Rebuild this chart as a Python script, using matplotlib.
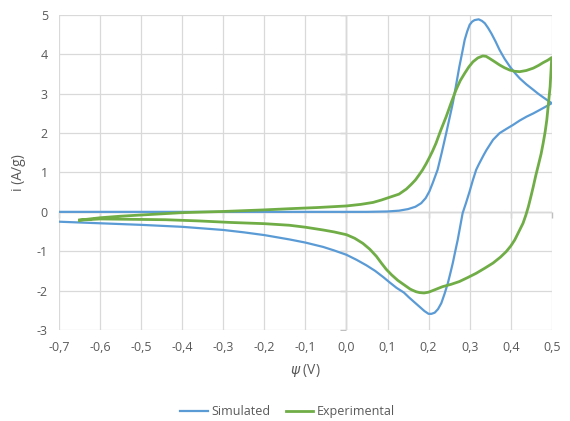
import matplotlib.pyplot as plt
import numpy as np

# Simulated CV: forward scan then reverse scan (psi in V, i in A/g)
sim_psi = [-0.7, -0.5, -0.3, -0.1, 0.05, 0.1, 0.128, 0.15, 0.168, 0.182, 0.193, 0.202,
           0.21, 0.216, 0.222, 0.232, 0.243, 0.251, 0.259, 0.267, 0.275, 0.282, 0.288,
           0.294, 0.3, 0.306, 0.312, 0.322, 0.33, 0.337, 0.345, 0.353, 0.363, 0.373,
           0.385, 0.398, 0.41, 0.422, 0.438, 0.455, 0.467, 0.479, 0.49, 0.5,
           0.485, 0.471, 0.455, 0.439, 0.422, 0.406, 0.39, 0.373, 0.357, 0.341, 0.334,
           0.328, 0.322, 0.316, 0.308, 0.3, 0.291, 0.283, 0.277, 0.271, 0.265, 0.259,
           0.253, 0.247, 0.239, 0.231, 0.223, 0.215, 0.207, 0.2, 0.19, 0.177, 0.165,
           0.152, 0.14, 0.122, 0.105, 0.09, 0.07, 0.049, 0.025, 0.0, -0.03, -0.057,
           -0.1, -0.139, -0.2, -0.25, -0.3, -0.4, -0.5, -0.6, -0.7]
sim_i = [0.0, 0.0, 0.0, 0.0, 0.0, 0.01, 0.03, 0.07, 0.13, 0.22, 0.35, 0.52,
         0.73, 0.9, 1.07, 1.5, 2.0, 2.38, 2.76, 3.22, 3.69, 4.05, 4.37,
         4.58, 4.75, 4.83, 4.87, 4.89, 4.85, 4.79, 4.67, 4.53, 4.33, 4.11,
         3.89, 3.69, 3.53, 3.39, 3.24, 3.1, 3.0, 2.91, 2.83, 2.76,
         2.67, 2.59, 2.5, 2.42, 2.32, 2.21, 2.11, 2.0, 1.83, 1.57, 1.44,
         1.32, 1.2, 1.07, 0.81, 0.52, 0.22, -0.03, -0.37, -0.71, -1.0, -1.3,
         -1.56, -1.81, -2.08, -2.32, -2.47, -2.56, -2.59, -2.59, -2.52, -2.4, -2.29,
         -2.17, -2.05, -1.93, -1.79, -1.66, -1.5, -1.36, -1.22, -1.09, -0.98, -0.89,
         -0.78, -0.7, -0.59, -0.52, -0.46, -0.38, -0.33, -0.29, -0.25]

# Experimental CV
exp_psi = [-0.65, -0.6, -0.55, -0.5, -0.45, -0.4, -0.3, -0.2, -0.139, -0.07, 0.0, 0.035,
           0.065, 0.085, 0.105, 0.128, 0.146, 0.158, 0.168, 0.177, 0.185, 0.194, 0.202,
           0.21, 0.218, 0.23, 0.243, 0.255, 0.267, 0.277, 0.288, 0.298, 0.308, 0.32,
           0.332, 0.34, 0.348, 0.36, 0.373, 0.385, 0.398, 0.41, 0.422, 0.438, 0.455,
           0.468, 0.479, 0.49, 0.5,
           0.498, 0.496, 0.492, 0.488, 0.484, 0.479, 0.474, 0.467, 0.461, 0.455, 0.449,
           0.443, 0.437, 0.43, 0.42, 0.41, 0.4, 0.389, 0.375, 0.357, 0.337, 0.316,
           0.295, 0.275, 0.255, 0.234, 0.21, 0.2, 0.189, 0.178, 0.17, 0.161, 0.155,
           0.14, 0.125, 0.11, 0.097, 0.085, 0.073, 0.057, 0.04, 0.02, 0.0, -0.03,
           -0.057, -0.1, -0.139, -0.2, -0.28, -0.36, -0.44, -0.52, -0.6, -0.65]
exp_i = [-0.21, -0.15, -0.11, -0.08, -0.05, -0.02, 0.01, 0.05, 0.08, 0.11, 0.15, 0.19,
         0.24, 0.3, 0.37, 0.45, 0.58, 0.7, 0.81, 0.94, 1.06, 1.22, 1.38,
         1.55, 1.74, 2.08, 2.42, 2.77, 3.1, 3.33, 3.52, 3.68, 3.81, 3.91,
         3.96, 3.95, 3.9, 3.82, 3.73, 3.66, 3.6, 3.57, 3.56, 3.59, 3.65,
         3.72, 3.79, 3.85, 3.92,
         3.55, 3.18, 2.76, 2.34, 2.04, 1.74, 1.47, 1.17, 0.92, 0.64, 0.38,
         0.13, -0.08, -0.29, -0.5, -0.71, -0.87, -1.01, -1.15, -1.3, -1.43, -1.56,
         -1.67, -1.77, -1.84, -1.9, -2.0, -2.04, -2.06, -2.05, -2.03, -1.99, -1.96,
         -1.85, -1.74, -1.6, -1.46, -1.3, -1.13, -0.95, -0.8, -0.67, -0.58, -0.51,
         -0.46, -0.39, -0.34, -0.3, -0.27, -0.23, -0.2, -0.19, -0.18, -0.21]

x_ticks = [-0.7, -0.6, -0.5, -0.4, -0.3, -0.2, -0.1, 0.0, 0.1, 0.2, 0.3, 0.4, 0.5]
y_ticks = [-3, -2, -1, 0, 1, 2, 3, 4, 5]

plt.rcParams['font.family'] = ['Open Sans', 'DejaVu Sans']

fig = plt.figure(figsize=(5.7, 4.21), dpi=100)
ax = fig.add_axes([0.1035, 0.2162, 0.8645, 0.7482])

ax.plot(sim_psi, sim_i, color='#5B9BD5', lw=1.6, label='Simulated', zorder=3)
ax.plot(exp_psi, exp_i, color='#70AD47', lw=2.0, label='Experimental', zorder=3)

ax.set_xlim(-0.7, 0.5)
ax.set_ylim(-3, 5)
ax.set_xticks(x_ticks)
ax.set_xticklabels([f"{v:.1f}".replace('.', ',') for v in x_ticks])
ax.set_yticks(y_ticks)
ax.set_yticklabels([str(v) for v in y_ticks])

# gridlines, plus the two axis lines crossing at zero (Excel style)
ax.grid(True, color='#D9D9D9', lw=0.9, zorder=0)
ax.axhline(0, color='#BFBFBF', lw=1.0, zorder=1)
ax.axvline(0, color='#BFBFBF', lw=1.0, zorder=1)
ax.plot([0] * len(y_ticks), y_ticks, ls='none', marker=0, ms=4, mew=1.0,
        color='#BFBFBF', zorder=1)
ax.plot(x_ticks, [0] * len(x_ticks), ls='none', marker=3, ms=4, mew=1.0,
        color='#BFBFBF', zorder=1, clip_on=False)
for s in ax.spines.values():
    s.set_visible(False)
ax.tick_params(length=0, labelsize=9, colors='#595959', pad=8)

ax.set_xlabel(r'$\psi$ (V)', fontsize=10, color='#595959', labelpad=6)
ax.set_ylabel('i (A/g)', fontsize=10, color='#595959', labelpad=8)

fig.legend(handles=ax.lines[:2], loc='lower center', bbox_to_anchor=(0.505, -0.02),
           ncol=2, frameon=False, fontsize=9, handlelength=2.2, handletextpad=0.3,
           columnspacing=1.2, labelcolor='#595959')

plt.savefig('out.png', dpi=100)
plt.close()
